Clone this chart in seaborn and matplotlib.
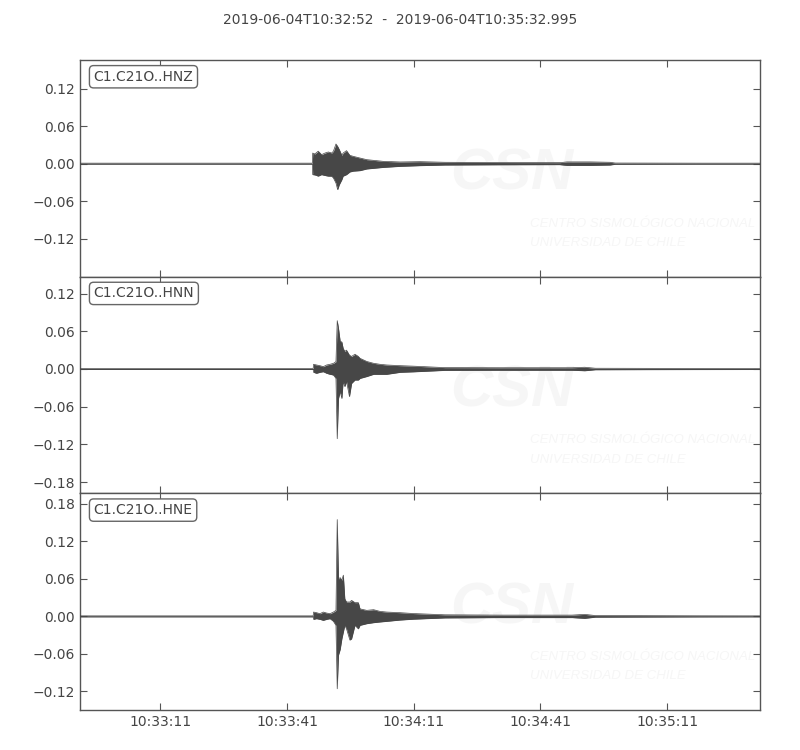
import numpy as np
import pandas as pd
import matplotlib
matplotlib.use("Agg")
import matplotlib.pyplot as plt
import seaborn as sns
from matplotlib.ticker import FixedLocator, FuncFormatter
from datetime import datetime, timedelta

sns.set_style("ticks")
plt.rcParams['font.family'] = ['DejaVu Sans']

# trace envelopes: seconds after 10:32:52, upper / lower peaks
start = datetime(2019, 6, 4, 10, 32, 52)
end_sec = 160.995
title = "2019-06-04T10:32:52  -  2019-06-04T10:35:32.995"

hnz_t = [0, 55.0, 55.1, 55.6, 56.4, 57.2, 58.0, 58.8, 59.6, 60.0,
         60.6, 61.0, 61.4, 62.0, 62.3, 63.1, 63.9, 64.7, 66.3, 67.9,
         71.8, 75.8, 80.5, 86.4, 99.4, 113.6, 115.3, 120.8, 125.5, 126.7,
         146.8, 161.0]
hnz_up = [0.0008, 0.0008, 0.017, 0.0155, 0.020, 0.0144, 0.017, 0.0187, 0.017, 0.020,
          0.0315, 0.0277, 0.0224, 0.0133, 0.017, 0.0208, 0.0133, 0.0117, 0.009, 0.0064,
          0.0037, 0.0027, 0.0032, 0.0022, 0.0018, 0.0016, 0.0028, 0.0028, 0.0022, 0.0010,
          0.0008, 0.0008]
hnz_lo = [-0.0008, -0.0008, -0.0176, -0.018, -0.020, -0.0176, -0.019, -0.020, -0.020, -0.023,
          -0.031, -0.0416, -0.0336, -0.0256, -0.020, -0.0176, -0.0133, -0.012, -0.0112, -0.0085,
          -0.006, -0.0043, -0.0032, -0.0022, -0.0018, -0.0016, -0.0028, -0.0028, -0.0022, -0.0010,
          -0.0008, -0.0008]

hnn_t = [0, 55.2, 55.3, 56.0, 56.8, 57.6, 58.4, 59.2, 60.0, 60.6,
         60.9, 61.2, 61.6, 62.0, 62.3, 62.7, 63.1, 63.8, 64.3, 65.1,
         65.9, 66.3, 67.9, 69.5, 71.0, 72.6, 75.8, 79.0, 86.4, 99.4,
         116.5, 119.5, 122.0, 146.8, 161.0]
hnn_up = [0.0008, 0.0008, 0.0075, 0.0064, 0.0053, 0.0037, 0.0064, 0.0075, 0.009, 0.0117,
          0.077, 0.065, 0.044, 0.043, 0.033, 0.028, 0.030, 0.022, 0.020, 0.0235,
          0.020, 0.017, 0.012, 0.0091, 0.0075, 0.0064, 0.0053, 0.0045, 0.0022, 0.0020,
          0.0020, 0.0028, 0.0012, 0.0009, 0.0008]
hnn_lo = [-0.0008, -0.0008, -0.0053, -0.0069, -0.0053, -0.0043, -0.0069, -0.0085, -0.0096, -0.015,
          -0.111, -0.047, -0.036, -0.047, -0.020, -0.028, -0.020, -0.044, -0.023, -0.0176,
          -0.0176, -0.015, -0.012, -0.0085, -0.0085, -0.0085, -0.0053, -0.0045, -0.0022, -0.0020,
          -0.0020, -0.0028, -0.0012, -0.0009, -0.0008]

hne_t = [0, 55.2, 55.3, 56.0, 56.8, 57.6, 58.4, 59.2, 60.0, 60.6,
         60.9, 61.2, 61.6, 62.0, 62.35, 62.7, 63.1, 63.9, 64.3, 65.1,
         65.9, 66.3, 67.9, 69.5, 71.0, 72.6, 75.8, 79.0, 86.4, 99.4,
         116.5, 119.5, 122.0, 146.8, 161.0]
hne_up = [0.0008, 0.0008, 0.0069, 0.0059, 0.0043, 0.0069, 0.0053, 0.0043, 0.0069, 0.0096,
          0.155, 0.060, 0.062, 0.058, 0.066, 0.028, 0.023, 0.023, 0.0256, 0.022,
          0.022, 0.012, 0.0096, 0.0107, 0.008, 0.0069, 0.0059, 0.0045, 0.0025, 0.0020,
          0.0020, 0.0032, 0.0013, 0.0009, 0.0008]
hne_lo = [-0.0008, -0.0008, -0.0048, -0.0037, -0.0048, -0.0064, -0.0048, -0.0037, -0.008, -0.0144,
          -0.116, -0.062, -0.053, -0.036, -0.025, -0.0144, -0.020, -0.038, -0.036, -0.0144,
          -0.020, -0.0144, -0.0117, -0.0101, -0.009, -0.008, -0.0059, -0.0045, -0.0025, -0.0020,
          -0.0020, -0.0032, -0.0013, -0.0009, -0.0008]

channels = ["C1.C21O..HNZ", "C1.C21O..HNN", "C1.C21O..HNE"]
ylims = [(-0.181, 0.166), (-0.198, 0.147), (-0.150, 0.197)]
traces = [(hnz_t, hnz_up, hnz_lo), (hnn_t, hnn_up, hnn_lo), (hne_t, hne_up, hne_lo)]

trace_color = "#474747"
frame_color = "#555555"
text_color = "#444444"
mark_color = "#f6f6f6"


def fmtTime(x, pos):
    return (start + timedelta(seconds=x)).strftime("%H:%M:%S")


def fmtAmp(v, pos):
    s = f"{v:.2f}"
    if s == "-0.00":
        s = "0.00"
    return s.replace("-", "\u2212")


fig, axes = plt.subplots(3, 1, figsize=(8, 7.5), dpi=100, sharex=True)
fig.subplots_adjust(left=0.1, right=0.95, top=0.92, bottom=0.0533, hspace=0)

for ax, name, ylim, (t, up, lo) in zip(axes, channels, ylims, traces):
    df = pd.DataFrame({"t": t + t, "amp": up + lo,
                       "edge": ["up"] * len(t) + ["lo"] * len(t)})
    ax.fill_between(t, lo, up, color=trace_color, lw=0, zorder=3)
    sns.lineplot(data=df, x="t", y="amp", units="edge", estimator=None, sort=False,
                 color=trace_color, lw=0.5, ax=ax, zorder=3)

    # faint watermark
    ax.text(0.545, 0.47, "CSN", transform=ax.transAxes, fontsize=42, fontstyle="italic",
            fontweight="bold", color=mark_color, ha="left", va="center", zorder=1,
            family="Liberation Sans")
    ax.text(0.662, 0.245, "CENTRO SISMOLÓGICO NACIONAL", transform=ax.transAxes, fontsize=9.5,
            fontstyle="italic", color=mark_color, ha="left", va="center", zorder=1,
            family="Liberation Sans")
    ax.text(0.662, 0.155, "UNIVERSIDAD DE CHILE", transform=ax.transAxes, fontsize=9.5,
            fontstyle="italic", color=mark_color, ha="left", va="center", zorder=1,
            family="Liberation Sans")

    ax.set_ylim(*ylim)
    yt = np.arange(-0.18, 0.19, 0.06)
    yt = [v for v in yt if ylim[0] + 0.01 < v < ylim[1] - 0.01]
    ax.yaxis.set_major_locator(FixedLocator(yt))
    ax.yaxis.set_major_formatter(FuncFormatter(fmtAmp))
    ax.set_xlim(0, end_sec)
    ax.set_xlabel("")
    ax.set_ylabel("")
    ax.tick_params(direction="in", top=True, right=True, length=5, width=0.8,
                   color=frame_color, labelcolor=text_color, labelsize=10)
    for sp in ax.spines.values():
        sp.set_color(frame_color)
        sp.set_linewidth(1.0)
    ax.text(0.02, 0.955, name, transform=ax.transAxes, ha="left", va="top",
            fontsize=10, color=text_color, zorder=5,
            bbox=dict(boxstyle="round,pad=0.3", fc="white", ec="#666666", lw=1.0))

axes[-1].xaxis.set_major_locator(FixedLocator(np.arange(19, end_sec, 30)))
axes[-1].xaxis.set_major_formatter(FuncFormatter(fmtTime))

fig.text(0.5, 1 - 20 / 750, title, ha="center", va="center", fontsize=10, color=text_color)

plt.savefig("out.png", dpi=100)
